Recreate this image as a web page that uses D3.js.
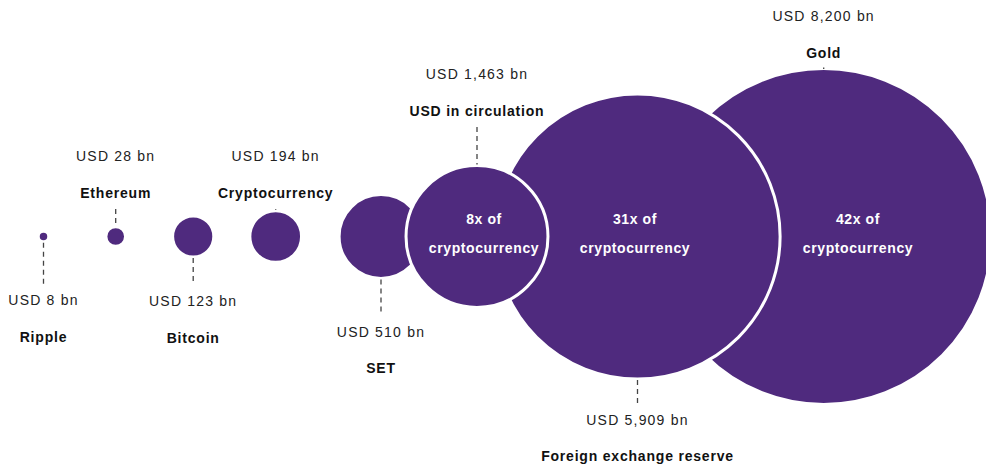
<!DOCTYPE html>
<html>
<head>
<meta charset="utf-8">
<script src="https://cdn.jsdelivr.net/npm/d3@7"></script>
<style>
  body { margin: 0; background: #fff; }
  svg { display: block; font-family: "Liberation Sans", Arial, sans-serif; }
</style>
</head>
<body>
<script>
// data
const names = ['Ripple', 'Ethereum', 'Bitcoin', 'Cryptocurrency', 'SET', 'USD in circulation', 'Foreign exchange reserve', 'Gold'];
const values = [8, 28, 123, 194, 510, 1463, 5909, 8200];
const multiples = [null, null, null, null, null, '8x', '31x', '42x'];

// layout
const width = 986, height = 469;
const cy = 236.5;
const xPos = [43.5, 115.7, 193.2, 275.7, 381, 477, 637.5, 823.7];
const labelSide = ['below', 'above', 'below', 'above', 'below', 'above', 'below', 'above'];
const valueLabelY = [300, 156, 301, 156, 331.5, 74, 419.5, 16];
const innerTextX = [null, null, null, null, null, 484, 635, 858];
const drawOrder = [0, 1, 2, 3, 4, 7, 6, 5];
const purple = '#4f2a7e';

const items = names.map((name, i) => ({
    name, value: values[i], multiple: multiples[i],
    x: xPos[i], side: labelSide[i], labelY: valueLabelY[i], textX: innerTextX[i]
}));

const r = d3.scaleSqrt().domain([0, d3.max(values)]).range([0, 168]);
const fmt = d3.format(',');

const svg = d3.select('body').append('svg').attr('width', width).attr('height', height);

// circles
svg.append('g').selectAll('circle')
    .data(drawOrder.map(i => items[i]))
    .enter().append('circle')
    .attr('cx', d => d.x)
    .attr('cy', cy)
    .attr('r', d => r(d.value))
    .attr('fill', purple)
    .attr('stroke', '#fff')
    .attr('stroke-width', 3);

// leader lines
svg.append('g').selectAll('line')
    .data(items)
    .enter().append('line')
    .attr('x1', d => d.x)
    .attr('x2', d => d.x)
    .attr('y1', d => d.side === 'above' ? d.labelY + 53 : cy + r(d.value) + 1)
    .attr('y2', d => d.side === 'above' ? cy - r(d.value) - 1 : d.labelY - 16)
    .attr('stroke', '#444')
    .attr('stroke-width', 1.3)
    .attr('stroke-dasharray', '5,4');

// value labels
svg.append('g').selectAll('text')
    .data(items)
    .enter().append('text')
    .attr('x', d => d.x)
    .attr('y', d => d.labelY)
    .attr('text-anchor', 'middle')
    .attr('dominant-baseline', 'central')
    .attr('font-size', 14)
    .attr('letter-spacing', 1.2)
    .attr('fill', '#222')
    .text(d => `USD ${fmt(d.value)} bn`);

// name labels
svg.append('g').selectAll('text')
    .data(items)
    .enter().append('text')
    .attr('x', d => d.x)
    .attr('y', d => d.labelY + 36.5)
    .attr('text-anchor', 'middle')
    .attr('dominant-baseline', 'central')
    .attr('font-size', 14)
    .attr('font-weight', 'bold')
    .attr('letter-spacing', 0.8)
    .attr('fill', '#111')
    .text(d => d.name);

// multiples inside big circles
const inner = svg.append('g').selectAll('g')
    .data(items.filter(d => d.multiple))
    .enter().append('g');

inner.append('text')
    .attr('x', d => d.textX)
    .attr('y', 218.5)
    .attr('text-anchor', 'middle')
    .attr('dominant-baseline', 'central')
    .attr('font-size', 14)
    .attr('font-weight', 'bold')
    .attr('letter-spacing', 0.6)
    .attr('fill', '#fff')
    .text(d => `${d.multiple} of`);

inner.append('text')
    .attr('x', d => d.textX)
    .attr('y', 248)
    .attr('text-anchor', 'middle')
    .attr('dominant-baseline', 'central')
    .attr('font-size', 14)
    .attr('font-weight', 'bold')
    .attr('letter-spacing', 0.6)
    .attr('fill', '#fff')
    .text('cryptocurrency');
</script>
</body>
</html>
